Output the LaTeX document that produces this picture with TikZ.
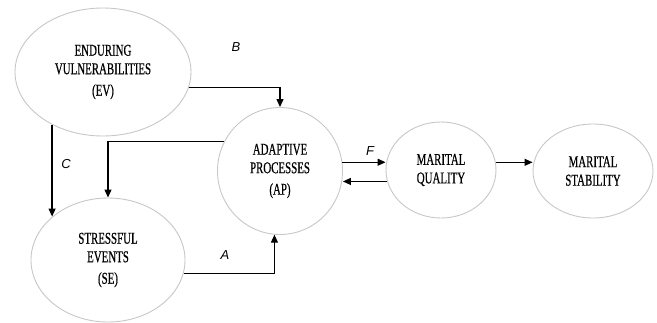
\documentclass[tikz,border=0pt]{standalone}
\usepackage{fontspec}
\setmainfont{Liberation Serif}
\newfontfamily\boxfont[FakeStretch=0.66,FakeBold=0.6]{Liberation Serif}
\newfontfamily\pathfont{Liberation Sans}
\usetikzlibrary{positioning,arrows.meta,shapes}

\begin{document}
\begin{tikzpicture}
		[x=1pt,y=-1pt,
		bubble/.style={ellipse,draw=black!22,line width=0.9pt,inner sep=0pt,align=center,
			font=\boxfont\fontsize{16.5}{18.5}\selectfont},
		path label/.style={font=\pathfont\itshape\fontsize{13}{15}\selectfont,inner sep=0pt},
		link/.style={draw,line width=1.2pt,-{Triangle[length=8pt,width=7pt]}}]
		\useasboundingbox (0,0) rectangle (657,322);
		\node[bubble,minimum width=176pt,minimum height=128pt] (ev) at (103,72) {ENDURING\\VULNERABILITIES\\[3pt](EV)};
		\node[bubble,minimum width=125pt,minimum height=127pt] (ap) at (280,171) {ADAPTIVE\\PROCESSES\\[3pt](AP)};
		\node[bubble,minimum width=154pt,minimum height=124pt] (se) at (108,260) {STRESSFUL\\EVENTS\\[3pt](SE)};
		\node[bubble,minimum width=110pt,minimum height=96pt] (mq) at (441,170) {MARITAL\\QUALITY};
		\node[bubble,minimum width=120pt,minimum height=94pt] (ms) at (593,171) {MARITAL\\STABILITY};
		% paths between the constructs
		\draw[link] (ev.-10) -| (ap.north);
		\draw[link] (ev.-134) -- (ev.-134 |- se.142);
		\draw[link] (ap.152) -| (se.north);
		\draw[link] (se.-10) -| (ap.-95);
		\draw[link] (ap.8) -- (ap.8 -| mq.west);
		\draw[link] (mq.192) -- (mq.192 -| ap.east);
		\draw[link] (mq.8) -- (mq.8 -| ms.west);
		\node[path label] (lb) at (236,47) {B};
		\node[path label] (lc) at (66,164) {C};
		\node[path label] (la) at (225,255) {A};
		\node[path label] (lf) at (370,151) {F};
\end{tikzpicture}
\end{document}
